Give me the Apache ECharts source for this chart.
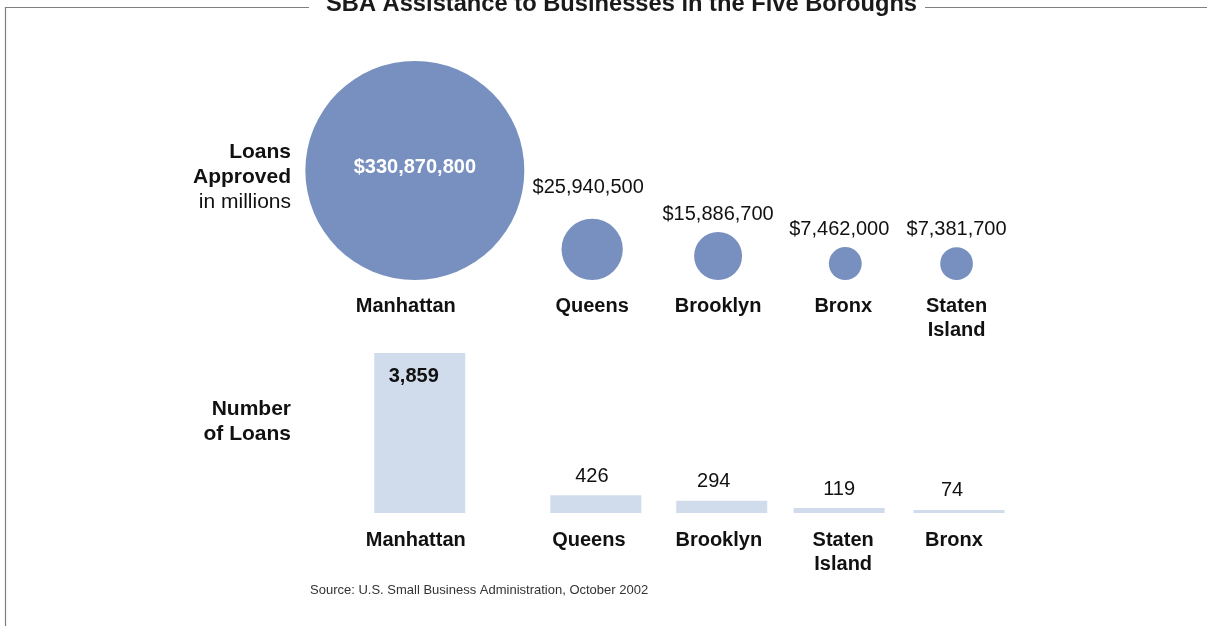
<!DOCTYPE html>
<html>
<head>
<meta charset="utf-8">
<script src="https://cdn.jsdelivr.net/npm/echarts@6/dist/echarts.min.js"></script>
<style>html,body{margin:0;padding:0;background:#fff}#chart{width:1207px;height:626px}</style>
</head>
<body>
<div id="chart"></div>
<script>
// loans approved (dollars), ordered as drawn
const loanBoroughs = ['Manhattan', 'Queens', 'Brooklyn', 'Bronx', 'Staten\nIsland']
const loanAmounts = [330870800, 25940500, 15886700, 7462000, 7381700]
// number of loans, ordered as drawn
const countBoroughs = ['Manhattan', 'Queens', 'Brooklyn', 'Staten\nIsland', 'Bronx']
const loanCounts = [3859, 426, 294, 119, 74]

// column slots along the shared x scale (layout only)
const circleSlots = [-0.02, 1.43, 2.46, 3.5, 4.41]
const barSlots = [0.02, 1.46, 2.49, 3.45, 4.43]
const barNameShift = [-4, -7, -3, 4, -5]
const barValueShift = [-6, -4, -8, 0, -7]

const FONT = '"Liberation Sans", Arial, Helvetica, sans-serif'
const BLUE = '#7890bf'
const PALE = '#d0dcec'
const INK = '#111'
const MAX_D = 219
const maxAmount = Math.max(...loanAmounts)
const fmt = n => n.toLocaleString('en-US')

const chart = echarts.init(document.getElementById('chart'), null, { renderer: 'canvas' })
const hiddenX = i => ({ gridIndex: i, type: 'value', min: -1, max: 6, show: false })
const nameLabel = dist => ({
  show: true, position: 'bottom', distance: dist, fontSize: 20, lineHeight: 24,
  fontWeight: 'bold', color: INK, fontFamily: FONT, formatter: p => p.name
})
const sideText = (y, text, bold) => ({
  type: 'text', x: 291, y,
  style: { text, textAlign: 'right', textVerticalAlign: 'middle', font: (bold ? 'bold ' : '') + '21px ' + FONT, fill: INK }
})

chart.setOption({
  animation: false,
  textStyle: { fontFamily: FONT },
  title: {
    text: 'SBA Assistance to Businesses in the Five Boroughs',
    left: 321, top: -13,
    textStyle: { fontFamily: FONT, fontSize: 23.7, fontWeight: 'bold', color: '#1a1a1a' }
  },
  grid: [
    { left: 295, right: 56, top: 40, height: 240 },
    { left: 295, right: 56, top: 353, height: 160 }
  ],
  xAxis: [hiddenX(0), hiddenX(1)],
  yAxis: [
    { gridIndex: 0, type: 'value', min: 0, max: 1, show: false },
    { gridIndex: 1, type: 'value', min: 0, max: 3859, show: false }
  ],
  series: [
    {
      type: 'scatter', xAxisIndex: 0, yAxisIndex: 0,
      symbolSize: v => MAX_D * Math.sqrt(v[2] / maxAmount),
      symbolOffset: [0, '-50%'],
      itemStyle: { color: BLUE, opacity: 1 },
      label: {
        show: true, position: 'top', distance: 8,
        fontSize: 20, color: INK, fontFamily: FONT,
        formatter: p => '$' + fmt(p.value[2])
      },
      data: loanAmounts.map((v, i) => {
        const item = { value: [circleSlots[i], 0, v] }
        if (i === 0) item.label = { position: 'inside', color: '#fff', fontWeight: 'bold', offset: [0, -3] }
        if (i === 1) item.label = { distance: 21, offset: [-4, 0] }
        if (i === 3) item.label = { offset: [-6, 0] }
        return item
      })
    },
    {
      type: 'scatter', xAxisIndex: 0, yAxisIndex: 0, symbolSize: 0, silent: true,
      itemStyle: { opacity: 1 },
      label: nameLabel(14),
      data: loanBoroughs.map((n, i) => ({ name: n, value: [circleSlots[i], 0], label: { offset: [i === 0 ? -9 : (i === 3 ? -2 : 0), 0] } }))
    },
    {
      type: 'bar', xAxisIndex: 1, yAxisIndex: 1, barWidth: 91,
      itemStyle: { color: PALE },
      label: {
        show: true, position: 'top', distance: 9, fontSize: 20, color: INK,
        fontFamily: FONT, formatter: p => fmt(p.value[1])
      },
      data: loanCounts.map((v, i) => {
        const item = { value: [barSlots[i], v], label: { offset: [barValueShift[i], 0] } }
        if (i === 0) item.label = { position: 'insideTop', distance: 13, fontWeight: 'bold', offset: [barValueShift[0], 0] }
        return item
      })
    },
    {
      type: 'scatter', xAxisIndex: 1, yAxisIndex: 1, symbolSize: 0, silent: true,
      itemStyle: { opacity: 1 },
      label: nameLabel(15),
      data: countBoroughs.map((n, i) => ({ name: n, value: [barSlots[i], 0], label: { offset: [barNameShift[i], 0] } }))
    }
  ],
  graphic: [
    { type: 'polyline', silent: true, shape: { points: [[309, 7.5], [5.5, 7.5], [5.5, 626]] },
      style: { stroke: '#808080', lineWidth: 1.2, fill: null } },
    { type: 'line', silent: true, shape: { x1: 925, y1: 7.5, x2: 1207, y2: 7.5 },
      style: { stroke: '#808080', lineWidth: 1.2 } },
    sideText(152, 'Loans', true),
    sideText(177, 'Approved', true),
    sideText(202, 'in millions', false),
    sideText(409, 'Number', true),
    sideText(434, 'of Loans', true),
    { type: 'text', x: 310, y: 590, style: { text: 'Source: U.S. Small Business Administration, October 2002', textAlign: 'left', textVerticalAlign: 'middle', font: '13px ' + FONT, fill: '#333' } }
  ]
})
</script>
</body>
</html>
